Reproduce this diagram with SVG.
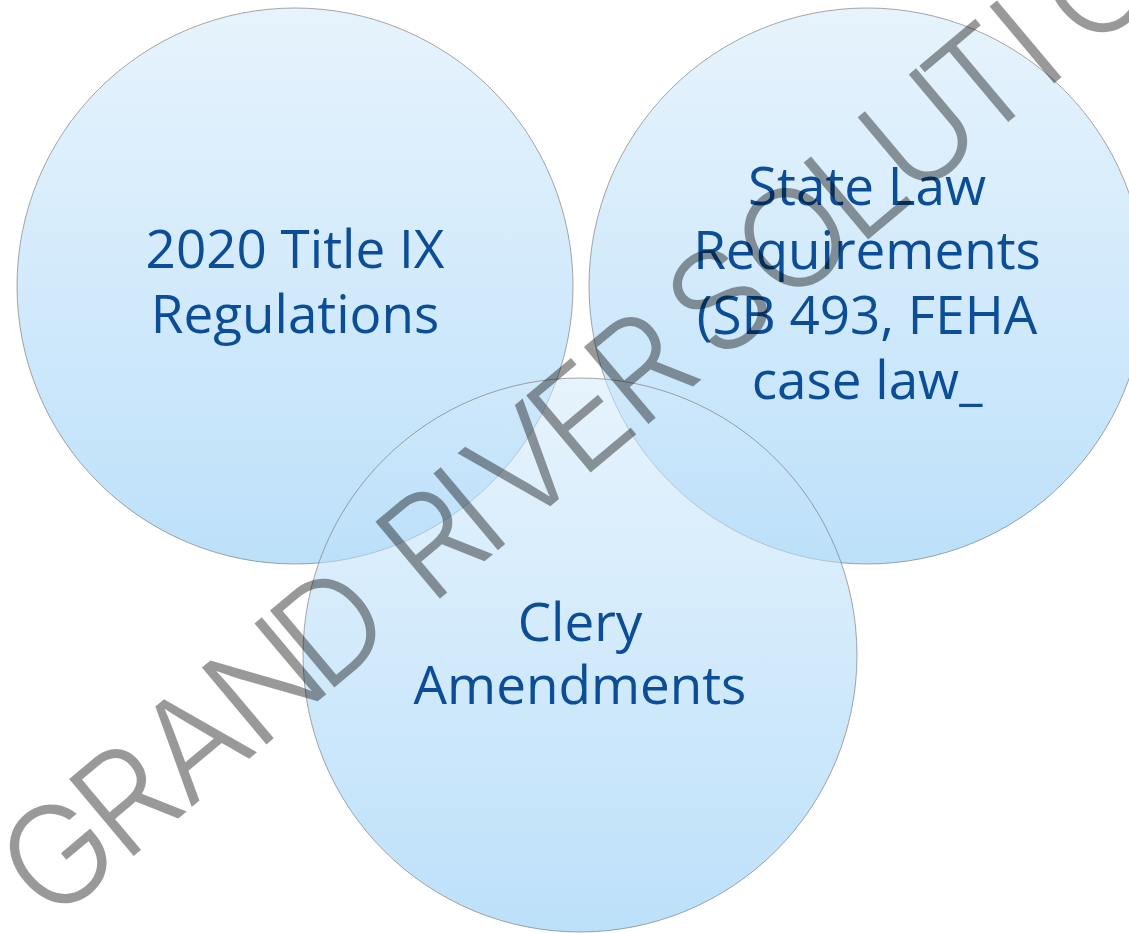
<svg xmlns="http://www.w3.org/2000/svg" width="1129" height="933" viewBox="0 0 1129 933">
<defs>
<linearGradient id="fillGrad" x1="0" y1="0" x2="0" y2="1">
<stop offset="0" stop-color="#d3eafb" stop-opacity="0.55"/>
<stop offset="1" stop-color="#8ccaf6" stop-opacity="0.58"/>
</linearGradient>
<style>
.circ{fill:url(#fillGrad);stroke:#6e6e6e;stroke-opacity:0.6;stroke-width:1}
.lbl{font-family:"Open Sans","Liberation Sans",sans-serif;font-size:53px;fill:#0b4d96;text-anchor:middle}
.wm{font-family:Inter,"Liberation Sans",sans-serif;font-size:138px;font-weight:350;fill:#000;fill-opacity:0.4;text-anchor:middle}
</style>
</defs>
<rect width="1129" height="933" fill="#ffffff"/>
<g id="node-title-ix">
<circle class="circ" cx="295" cy="286" r="278"/>
<text class="lbl" x="295" y="268">2020 Title IX</text>
<text class="lbl" x="295" y="333">Regulations</text>
</g>
<g id="node-state-law">
<circle class="circ" cx="867" cy="286" r="278"/>
<text class="lbl" x="867" y="205">State Law</text>
<text class="lbl" x="867" y="269">Requirements</text>
<text class="lbl" x="867" y="334">(SB 493, FEHA</text>
<text class="lbl" x="867" y="399">case law_</text>
</g>
<g id="node-clery">
<circle class="circ" cx="580" cy="655" r="277"/>
<text class="lbl" x="580" y="641">Clery</text>
<text class="lbl" x="580" y="704">Amendments</text>
</g>
<g id="connectors"></g>
<g id="watermark" transform="translate(137,853) rotate(-40)">
<text class="wm" x="-62" y="0">G</text>
<text class="wm" x="26" y="0">R</text>
<text class="wm" x="114" y="0">A</text>
<text class="wm" x="208" y="0">N</text>
<text class="wm" x="294" y="0">D</text>
<text class="wm" x="426" y="0">R</text>
<text class="wm" x="476" y="0">I</text>
<text class="wm" x="545" y="0">V</text>
<text class="wm" x="620" y="0">E</text>
<text class="wm" x="698" y="0">R</text>
<text class="wm" x="802" y="0">S</text>
<text class="wm" x="898" y="0">O</text>
<text class="wm" x="980" y="0">L</text>
<text class="wm" x="1063" y="0">U</text>
<text class="wm" x="1142" y="0">T</text>
<text class="wm" x="1202" y="0">I</text>
<text class="wm" x="1294" y="0">O</text>
<text class="wm" x="1390" y="0">N</text>
<text class="wm" x="1480" y="0">S</text>
</g>
</svg>
